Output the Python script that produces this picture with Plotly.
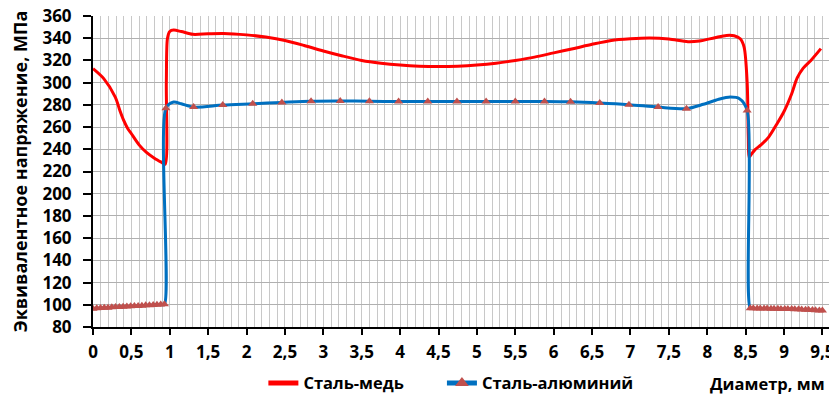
import plotly.graph_objects as go

# Сталь-медь (red)
cu_x = [0, 0.14, 0.29, 0.35, 0.4, 0.45, 0.5, 0.6, 0.7, 0.8, 0.9, 0.94, 0.955, 0.97, 1.0, 1.05, 1.15, 1.3,
        1.5, 1.7, 2.0, 2.25, 2.5, 2.75, 3.0, 3.25, 3.5, 3.75, 4.0, 4.25, 4.5, 4.75, 5.0, 5.25, 5.5, 5.75,
        6.0, 6.25, 6.5, 6.75, 7.0, 7.25, 7.5, 7.75, 7.9, 8.1, 8.25, 8.35, 8.43, 8.48, 8.52, 8.535, 8.545,
        8.57, 8.62, 8.7, 8.8, 8.9, 9.0, 9.1, 9.17, 9.25, 9.35, 9.48]
cu_y = [312.6, 303.6, 287, 275, 266, 259, 254, 244, 237, 232, 228, 226.5, 300, 340, 346, 347.3, 346, 343.5,
        344, 344.3, 343, 341, 338, 333.5, 328.5, 324, 320, 317.5, 315.8, 314.8, 314.5, 314.8, 315.8, 317.5,
        320, 323, 326.8, 330.5, 334.5, 338, 339.5, 340.2, 339.3, 336.8, 337.5, 340.5, 342.5, 342.2, 339.5,
        332, 300, 250, 233, 235, 239.5, 244, 251, 262, 274, 290, 304, 313, 320, 330.6]

# Сталь-алюминий (blue), points carrying a marker
al_x = [0, 0.049, 0.098, 0.147, 0.196, 0.245, 0.294, 0.343, 0.392, 0.441, 0.49, 0.539, 0.588, 0.637,
        0.686, 0.735, 0.784, 0.833, 0.882, 0.93,
        0.95, 1.31, 1.69, 2.08, 2.46, 2.84, 3.22, 3.6, 3.98, 4.36, 4.74, 5.12, 5.5, 5.88, 6.22, 6.6,
        6.98, 7.36, 7.73, 8.52,
        8.56, 8.6, 8.65, 8.69, 8.74, 8.78, 8.83, 8.87, 8.92, 8.96, 9.01, 9.05, 9.1, 9.14, 9.19, 9.23,
        9.28, 9.32, 9.37, 9.41, 9.46, 9.5]
al_y = [96.5, 96.9, 97.0, 97.3, 97.4, 97.7, 97.9, 98.0, 98.3, 98.4, 98.6, 98.9, 99.0, 99.2, 99.5, 99.6,
        99.8, 100.1, 100.2, 100.4,
        277, 278, 279.8, 281, 282.2, 283.3, 283.5, 283.2, 283, 283, 283, 283, 283, 283, 282.7, 281.7,
        280.2, 278, 276.6, 275,
        96.8, 96.8, 96.7, 96.7, 96.6, 96.6, 96.5, 96.5, 96.4, 96.3, 96.3, 96.2, 96.1, 96.0, 95.9, 95.8,
        95.6, 95.5, 95.3, 95.1, 94.9, 94.8]
# Сталь-алюминий curve points without marker
al_x_extra = [1.05, 1.15, 7.95, 8.15, 8.3, 8.42]
al_y_extra = [282.5, 281, 280.5, 285, 287, 285.5]

x_ticks = [0, 0.5, 1, 1.5, 2, 2.5, 3, 3.5, 4, 4.5, 5, 5.5, 6, 6.5, 7, 7.5, 8, 8.5, 9, 9.5]
x_tick_labels = ["0", "0,5", "1", "1,5", "2", "2,5", "3", "3,5", "4", "4,5", "5", "5,5", "6", "6,5",
                 "7", "7,5", "8", "8,5", "9", "9,5"]

FONT = "Open Sans"
RED = "#FF0000"
BLUE = "#0070C0"
MARK = "#C0504D"

line_pts = sorted(zip(al_x + al_x_extra, al_y + al_y_extra), key=lambda p: p[0])
line_x = [p[0] for p in line_pts]
line_y = [p[1] for p in line_pts]

fig = go.Figure()
fig.add_trace(go.Scatter(x=cu_x, y=cu_y, mode="lines", name="Сталь-медь", legend="legend",
                         line=dict(color=RED, width=3, shape="spline", smoothing=0.8)))
fig.add_trace(go.Scatter(x=line_x, y=line_y, mode="lines", showlegend=False,
                         line=dict(color=BLUE, width=3, shape="spline", smoothing=0.8)))
fig.add_trace(go.Scatter(x=al_x, y=al_y, mode="markers", showlegend=False,
                         marker=dict(symbol="triangle-up", size=8, color=MARK)))
fig.add_trace(go.Scatter(x=[None], y=[None], mode="lines+markers", name="Сталь-алюминий",
                         legend="legend2",
                         line=dict(color=BLUE, width=3),
                         marker=dict(symbol="triangle-up", size=8, color=MARK)))

LEG_Y = -0.181
leg_common = dict(orientation="h", yanchor="middle", y=LEG_Y, xanchor="left",
                  font=dict(family=FONT, size=16.5, color="black", weight="bold"),
                  bgcolor="rgba(0,0,0,0)", itemsizing="constant")

# page body has an 8px margin: figure is sized/placed so the plot lands where the reference has it
fig.update_layout(
    width=829, height=386,
    margin=dict(l=85, r=0, t=8, b=67, autoexpand=False),
    paper_bgcolor="white", plot_bgcolor="white",
    font=dict(family=FONT, size=17, color="black"),
    showlegend=True,
    legend=dict(x=0.229, **leg_common),
    legend2=dict(x=0.469, **leg_common),
)
fig.update_xaxes(range=[0, 9.69], tickvals=x_ticks, ticktext=x_tick_labels,
                 showline=True, linecolor="black", linewidth=2,
                 ticks="outside", ticklen=6, tickwidth=2, tickcolor="black",
                 ticklabelstandoff=3, ticklabeloverflow="allow",
                 tickfont=dict(family=FONT, size=17, weight="bold"),
                 showgrid=True, gridcolor="#c8c8c8", gridwidth=1,
                 minor=dict(dtick=0.1, showgrid=True, gridcolor="#c8c8c8", gridwidth=1, ticks=""),
                 zeroline=False)
fig.update_yaxes(range=[80, 360], dtick=20, tick0=80,
                 showline=True, linecolor="black", linewidth=2,
                 ticks="outside", ticklen=8, tickwidth=2, tickcolor="black",
                 ticklabelstandoff=8, ticklabeloverflow="allow",
                 tickfont=dict(family=FONT, size=17, weight="bold"),
                 showgrid=True, gridcolor="#b0b0b0", gridwidth=1.3, zeroline=False,
                 title=dict(text="Эквивалентное напряжение, МПа",
                            font=dict(family=FONT, size=18, weight="bold"), standoff=10))
fig.add_annotation(text="Диаметр, мм", xref="paper", yref="paper", x=1.0, xanchor="right",
                   y=LEG_Y, yanchor="middle", showarrow=False, xshift=-10,
                   font=dict(family=FONT, size=16.5, weight="bold", color="black"))

fig.write_html("out.html")
